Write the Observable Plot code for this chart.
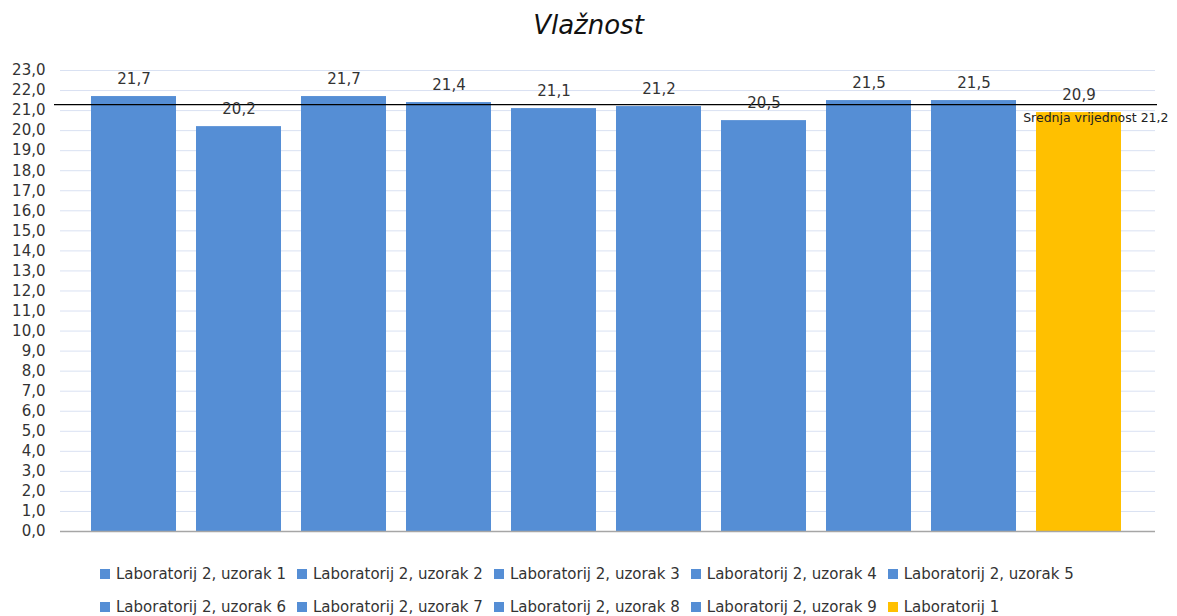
<!DOCTYPE html>
<html>
<head>
<meta charset="utf-8">
<script src="https://cdn.jsdelivr.net/npm/d3@7"></script>
<script src="https://cdn.jsdelivr.net/npm/@observablehq/plot@0.6"></script>
<style>
  html, body { margin: 0; padding: 0; background: #fff; }
  body { width: 1177px; height: 616px; overflow: hidden; font-family: "DejaVu Sans", sans-serif; }
  #title { height: 50px; line-height: 50px; text-align: center; font-size: 26px; font-style: italic; color: #111; }
  #chart svg { display: block; }
  #legend { padding-top: 16px; margin-left: 100px; width: 1010px; display: flex; flex-wrap: wrap; column-gap: 11px; }
  .item { display: flex; align-items: center; height: 33px; font-size: 15px; color: #333; white-space: nowrap; }
  .sw { width: 10px; height: 10px; margin-right: 6px; display: inline-block; }
</style>
</head>
<body>
<div id="title">Vlažnost</div>
<div id="chart"></div>
<div id="legend"></div>
<script>
const categories = [
  "Laboratorij 2, uzorak 1", "Laboratorij 2, uzorak 2", "Laboratorij 2, uzorak 3",
  "Laboratorij 2, uzorak 4", "Laboratorij 2, uzorak 5", "Laboratorij 2, uzorak 6",
  "Laboratorij 2, uzorak 7", "Laboratorij 2, uzorak 8", "Laboratorij 2, uzorak 9",
  "Laboratorij 1"
];
const values = [21.7, 20.2, 21.7, 21.4, 21.1, 21.2, 20.5, 21.5, 21.5, 20.9];
const colors = ["#558ed5", "#558ed5", "#558ed5", "#558ed5", "#558ed5", "#558ed5", "#558ed5", "#558ed5", "#558ed5", "#ffc000"];
const meanLine = [21.3];
const meanLabel = ["Srednja vrijednost 21,2"];
const yTicks = [0,1,2,3,4,5,6,7,8,9,10,11,12,13,14,15,16,17,18,19,20,21,22,23];

const data = categories.map((c, i) => ({category: c, value: values[i], color: colors[i]}));
const fmt = v => v.toFixed(1).replace(".", ",");

const chart = Plot.plot({
  width: 1177,
  height: 491,
  marginLeft: 60,
  marginRight: 22,
  marginTop: 20,
  marginBottom: 10,
  style: {fontFamily: "DejaVu Sans, sans-serif", fontSize: "15px", background: "#fff"},
  x: {domain: categories, paddingInner: 0.19, paddingOuter: 0.095, insetLeft: 21, insetRight: 23.5, axis: null},
  y: {domain: [0, 23], axis: null},
  color: {type: "identity"},
  marks: [
    Plot.ruleY(yTicks.filter(d => d > 0), {stroke: "#d9e1f2", strokeWidth: 1}),
    Plot.barY(data, {x: "category", y: "value", fill: "color"}),
    Plot.ruleY([0], {stroke: "#a6a6a6", strokeWidth: 1.5}),
    Plot.ruleY(meanLine, {y: d => d, stroke: "#000", strokeWidth: 1.3, insetLeft: -6, insetRight: -2}),
    Plot.text(data, {x: "category", y: "value", text: d => fmt(d.value), dy: -17, fill: "#333", fontSize: 15}),
    Plot.text(meanLine, {y: d => d, frameAnchor: "right", textAnchor: "end", text: (d, i) => meanLabel[i], dx: 13, dy: 13, fill: "#222", fontSize: 12.5}),
    Plot.axisY({ticks: yTicks, tickFormat: fmt, tickSize: 0, tickPadding: 15, fontSize: 15, fill: "#333", label: null})
  ]
});
document.getElementById("chart").appendChild(chart);

const legend = document.getElementById("legend");
categories.forEach((c, i) => {
  const item = document.createElement("div");
  item.className = "item";
  const sw = document.createElement("span");
  sw.className = "sw";
  sw.style.background = colors[i];
  item.appendChild(sw);
  item.appendChild(document.createTextNode(c));
  legend.appendChild(item);
});
</script>
</body>
</html>
